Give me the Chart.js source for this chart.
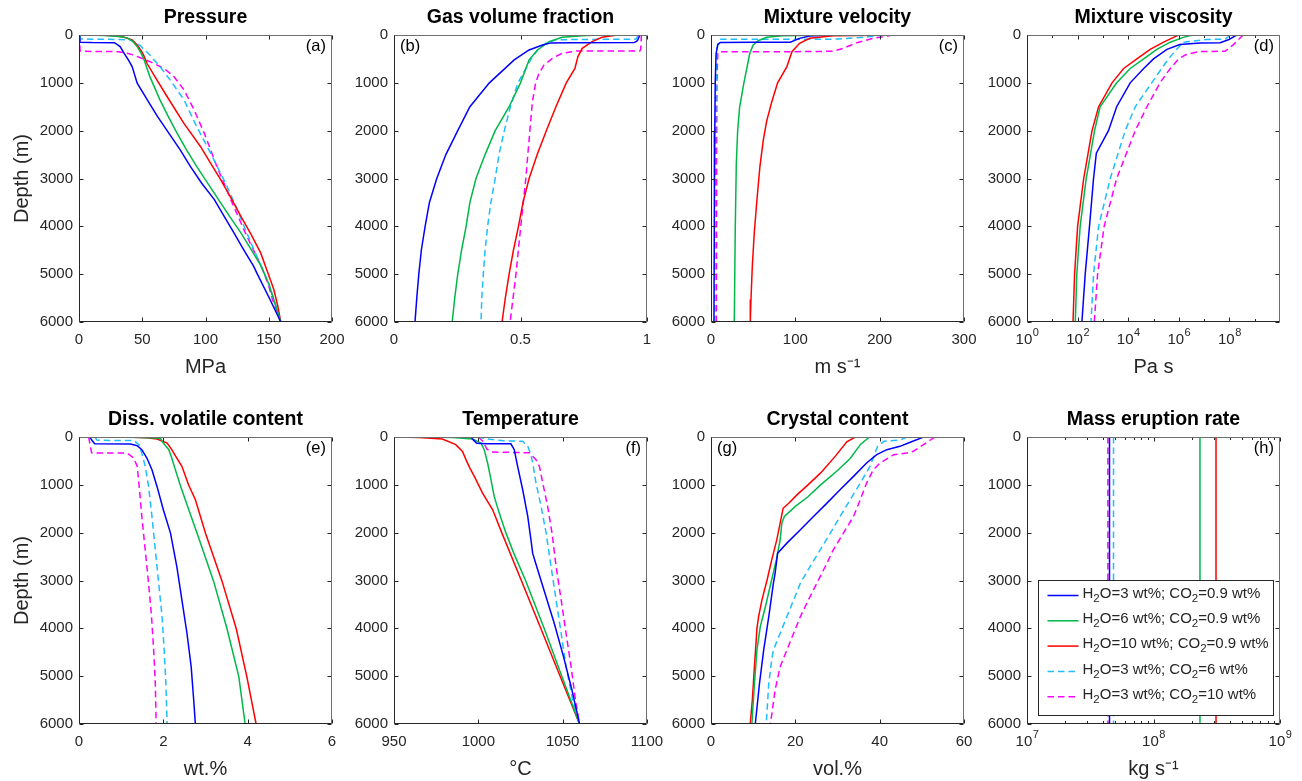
<!DOCTYPE html>
<html lang="en">
<head>
<meta charset="UTF-8" />
<title>Conduit profiles</title>
<script src="https://cdn.jsdelivr.net/npm/chart.js@4"></script>
<style>
  body { margin: 0; background: #fff; width: 1302px; height: 781px; overflow: hidden; position: relative; }
  canvas { position: absolute; }
</style>
</head>
<body>
<script>
// runs: H2O=3/CO2=0.9, H2O=6/CO2=0.9, H2O=10/CO2=0.9, H2O=3/CO2=6, H2O=3/CO2=10
const runLabels = ['H₂O=3 wt%; CO₂=0.9 wt%', 'H₂O=6 wt%; CO₂=0.9 wt%', 'H₂O=10 wt%; CO₂=0.9 wt%', 'H₂O=3 wt%; CO₂=6 wt%', 'H₂O=3 wt%; CO₂=10 wt%'];
const runColors = ['#0000ff', '#00b84a', '#ff0000', '#1ebeff', '#ff00ff'];
const runDashed = [false, false, false, true, true];

// tick values
const depthTicks = [0, 1000, 2000, 3000, 4000, 5000, 6000];
const pressureTicks = [0, 50, 100, 150, 200];
const gvfTicks = [0, 0.5, 1];
const velocityTicks = [0, 100, 200, 300];
const viscosityTicks = [1, 1e2, 1e4, 1e6, 1e8];
const volatileTicks = [0, 2, 4, 6];
const temperatureTicks = [950, 1000, 1050, 1100];
const crystalTicks = [0, 20, 40, 60];
const merTicks = [1e7, 1e8, 1e9];

// each point is [value, depth in m]
// (a) pressure, MPa
const pressureW3 = [[0.5,0],[0.8,150],[10,158],[28,162],[32.5,243],[35.7,382],[39,521],[42,660],[46,1008],[54,1356],[62,1700],[71,2051],[80,2400],[88,2747],[97,3100],[107,3442],[115,3800],[122.5,4138],[130,4480],[138,4833],[141,5000],[151,5529],[159.5,6000]];
const pressureW6 = [[6.6,0],[20,10],[32,30],[38,60],[42,120],[46,243],[49,380],[51,487],[56,870],[64,1356],[70.5,1700],[77.5,2051],[85,2400],[93,2747],[103,3150],[112,3511],[120,3830],[128,4138],[136,4480],[144,4833],[150,5200],[154,5529],[159.5,6000]];
const pressureW10 = [[14,0],[25,10],[35,40],[42,100],[46,209],[49,320],[51,417],[53.7,591],[60,870],[69.6,1286],[82.8,1843],[96,2330],[104,2680],[112,3025],[120,3400],[128,3790],[136,4170],[143.6,4555],[149,4950],[154,5320],[157,5650],[159.5,6000]];
const pressureC6 = [[0.8,0],[1,80],[10,90],[30,92],[40,100],[44,150],[48,209],[56,417],[64,660],[72,939],[83,1356],[93,1913],[104,2469],[117,3164],[124,3580],[130.5,3999],[137,4410],[144,4833],[150,5200],[154,5529],[159.5,6000]];
const pressureC10 = [[0.5,0],[0.8,335],[10,345],[31,348],[38,380],[43,417],[56,556],[67,695],[75,870],[83,1147],[91,1565],[99,2051],[109,2747],[120,3442],[131.5,4138],[138,4500],[144,4833],[149.5,5200],[153,5529],[159.5,6000]];

// (b) gas volume fraction
const gvfW3 = [[0.972,0],[0.962,120],[0.95,158],[0.7,160],[0.62,165],[0.587,209],[0.534,313],[0.475,520],[0.377,1000],[0.30,1500],[0.252,2000],[0.205,2500],[0.169,3000],[0.14,3500],[0.123,4000],[0.108,4500],[0.098,5000],[0.09,5500],[0.083,6000]];
const gvfW6 = [[0.81,0],[0.744,14],[0.665,49],[0.613,139],[0.567,313],[0.534,520],[0.5,1000],[0.455,1500],[0.4,2000],[0.36,2500],[0.324,3000],[0.3,3500],[0.285,4000],[0.267,4500],[0.252,5000],[0.24,5500],[0.23,6000]];
const gvfW10 = [[0.882,0],[0.822,49],[0.783,139],[0.744,278],[0.727,452],[0.715,700],[0.681,1000],[0.64,1500],[0.602,2000],[0.566,2500],[0.534,3000],[0.51,3500],[0.492,4000],[0.472,4500],[0.455,5000],[0.44,5500],[0.427,6000]];
const gvfC6 = [[0.965,0],[0.958,80],[0.95,90],[0.75,92],[0.64,100],[0.6,174],[0.567,313],[0.54,520],[0.49,1000],[0.46,1500],[0.436,2000],[0.415,2500],[0.4,3000],[0.383,3500],[0.37,4000],[0.36,4500],[0.353,5000],[0.347,5500],[0.344,6000]];
const gvfC10 = [[0.978,0],[0.975,300],[0.972,334],[0.72,336],[0.665,382],[0.626,487],[0.593,626],[0.573,800],[0.56,1000],[0.547,1400],[0.537,2000],[0.521,3000],[0.501,4000],[0.482,5000],[0.459,6000]];

// (c) mixture velocity, m/s
const velocityW3 = [[140,0],[117,20],[105,70],[94,150],[50,153],[11,155],[8,200],[6,400],[5,1000],[4.5,2000],[4,3500],[3.5,6000]];
const velocityW6 = [[143,0],[85,15],[66,48],[56,119],[50,209],[46,383],[39,1000],[34,1500],[31.6,2000],[30,2700],[28.8,4000],[27.6,6000]];
const velocityW10 = [[220,0],[145,14],[117,70],[105,174],[96,348],[90,660],[79,1000],[72,1400],[66,1800],[62,2200],[58,2750],[54.5,3440],[51.3,4140],[49,4830],[47.4,5530],[46.6,6000]];
const velocityC6 = [[205,0],[190,30],[170,60],[150,84],[144,88],[40,90],[11,91],[9,130],[7,300],[6,1000],[5,3000],[4.5,6000]];
const velocityC10 = [[216,0],[192,70],[173,160],[157,278],[145,340],[100,348],[9,350],[8,400],[7,1000],[6.6,3000],[6.3,6000]];

// (d) mixture viscosity, Pa s
const viscosityW3 = [[1.95e8,0],[9.1e7,100],[4.3e7,160],[6.9e6,165],[1.1e6,200],[3.4e5,300],[1e5,500],[4.1e4,700],[1.2e4,1000],[3.5e3,1500],[1.66e3,2000],[550,2470],[427,3000],[295,4000],[200,5000],[148,6000]];
const viscosityW6 = [[3.5e6,0],[1.5e6,50],[4.6e5,150],[1.35e5,300],[4.1e4,500],[1.2e4,700],[3.5e3,1000],[776,1500],[468,2000],[219,3000],[126,4000],[93,5000],[81,6000]];
const viscosityW10 = [[9.8e5,0],[6.2e5,50],[2.5e5,150],[7.4e4,300],[2.2e4,500],[6.6e3,700],[2.3e3,1000],[676,1500],[372,2000],[174,3000],[100,4000],[76,5000],[66,6000]];
const viscosityC6 = [[1.07e8,0],[6.8e7,90],[1.26e7,92],[1.5e6,150],[8.3e5,300],[3.9e5,500],[2.1e5,700],[8.5e4,1000],[1.9e4,1500],[7.6e3,2000],[1.95e3,3000],[676,4000],[427,5000],[339,6000]];
const viscosityC10 = [[3.5e8,0],[1.45e8,200],[6.8e7,340],[6.9e6,345],[2.1e6,400],[9.8e5,500],[4.6e5,700],[1.8e5,1000],[5.5e4,1500],[1.9e4,2000],[3.5e3,3000],[1.12e3,4000],[617,5000],[457,6000]];

// (e) dissolved volatile content, wt.%
const volatileW3 = [[0.25,0],[0.37,140],[1.22,145],[1.38,181],[1.49,265],[1.61,440],[1.73,684],[1.85,1033],[2.0,1521],[2.17,2010],[2.32,2708],[2.44,3405],[2.56,4103],[2.66,4801],[2.72,5499],[2.76,6000]];
const volatileW6 = [[0.74,0],[1.5,10],[1.93,28],[2.0,126],[2.13,265],[2.2,440],[2.26,614],[2.4,1005],[2.52,1312],[2.8,2010],[3.19,3008],[3.51,4010],[3.79,5010],[3.94,6000]];
const volatileW10 = [[1.14,0],[1.6,15],[1.85,42],[2.09,126],[2.2,265],[2.32,440],[2.44,614],[2.6,1005],[2.76,1312],[3.0,2010],[3.39,3008],[3.73,4010],[3.98,5010],[4.2,6000]];
const volatileC6 = [[0.38,0],[0.42,60],[0.45,70],[1.3,72],[1.42,160],[1.49,335],[1.57,614],[1.65,1033],[1.73,1661],[1.81,2359],[1.89,3056],[1.97,3754],[2.02,4452],[2.06,5150],[2.09,6000]];
const volatileC10 = [[0.23,0],[0.27,200],[0.3,330],[0.32,335],[1.14,337],[1.3,440],[1.38,614],[1.42,963],[1.49,1661],[1.57,2359],[1.65,3056],[1.72,3754],[1.77,4452],[1.81,5150],[1.83,6000]];

// (f) temperature, deg C
const temperatureW3 = [[995.6,0],[997,60],[999,130],[1005,140],[1019.3,142],[1021.3,265],[1023.3,614],[1026.3,1103],[1029.3,1661],[1031.2,2149],[1032.2,2428],[1034,2640],[1039.5,3266],[1045,3894],[1050.5,4592],[1055.5,5290],[1060,6000]];
const temperatureW6 = [[970.8,0],[985,8],[996.6,42],[1001.5,126],[1003.5,265],[1005.5,544],[1007.5,893],[1009.4,1242],[1012.4,1591],[1016.4,2010],[1021,2428],[1028,3000],[1039,4000],[1049.5,5000],[1060,6000]];
const temperatureW10 = [[951,0],[965,10],[978.7,42],[986.6,160],[990.6,300],[993,500],[995,650],[998,850],[1002.5,1172],[1008.5,1521],[1014,2010],[1025.5,3000],[1037,4000],[1048.5,5000],[1060,6000]];
const temperatureC6 = [[999.5,0],[1005,40],[1015,80],[1026.3,90],[1029.3,195],[1031.2,370],[1032.6,614],[1034.2,963],[1037.2,1452],[1040.2,2010],[1043.1,2708],[1046.1,3405],[1049.1,4103],[1052,4801],[1056,5499],[1060,6000]];
const temperatureC10 = [[1000,0],[1003,100],[1005,250],[1008,314],[1030.2,330],[1034.2,475],[1036.2,614],[1038.2,963],[1041.1,1452],[1043.7,2010],[1046.1,2708],[1049.1,3405],[1052,4103],[1055,4801],[1057.6,5499],[1060,6000]];

// (g) crystal content, vol.%
const crystalW3 = [[50.4,0],[46.8,126],[44.8,195],[41.7,265],[39.3,370],[36.9,544],[33.8,823],[30.6,1103],[27.5,1382],[24.3,1661],[21.2,1940],[18,2219],[15.8,2428],[15.2,2850],[14.8,3056],[13.7,3754],[12.5,4452],[11.5,5150],[10.5,6000]];
const crystalW6 = [[37.6,0],[35.5,150],[33,450],[30,700],[26,1000],[23,1250],[20,1450],[17.4,1660],[16.8,1800],[16.4,2150],[15.5,2570],[14,3130],[12.9,3550],[11.7,3960],[10.9,4450],[10.3,5150],[9.7,6000]];
const crystalW10 = [[34.2,0],[32.2,100],[29.5,400],[26,750],[23,1000],[20.5,1200],[18.5,1380],[17.1,1490],[16.4,1800],[15.6,2150],[14.4,2570],[13.3,2990],[12.1,3400],[11.3,3750],[10.9,4000],[10.3,4800],[9.8,5500],[9.3,6000]];
const crystalC6 = [[46.5,0],[45,60],[41,90],[39.5,200],[37.7,614],[35.4,963],[33,1312],[30.6,1661],[28.3,2010],[25.9,2359],[23.5,2708],[21.2,3056],[19.6,3405],[18,3754],[16.4,4103],[14.8,4452],[14.4,4661],[13.7,5150],[13.1,6000]];
const crystalC10 = [[53.1,0],[50.4,160],[48,300],[46.4,335],[43.3,370],[40.1,544],[38.5,684],[36.9,963],[35.4,1312],[33.8,1661],[31.4,2010],[29,2359],[27.1,2708],[25.1,3056],[23.1,3405],[21.2,3754],[19.6,4103],[18,4452],[16.4,4801],[15.2,5290],[14.1,6000]];

// (h) mass eruption rate, kg/s
const merW3 = [[4.49e7,0],[4.49e7,6000]];
const merW6 = [[2.33e8,0],[2.33e8,6000]];
const merW10 = [[3.12e8,0],[3.12e8,6000]];
const merC6 = [[4.83e7,0],[4.83e7,6000]];
const merC10 = [[4.36e7,0],[4.36e7,6000]];

const panels = [
  { title: 'Pressure', xTitle: 'MPa', tag: '(a)', min: 0, max: 200, ticks: pressureTicks, series: [pressureW3, pressureW6, pressureW10, pressureC6, pressureC10] },
  { title: 'Gas volume fraction', xTitle: '', tag: '(b)', tagLeft: true, min: 0, max: 1, ticks: gvfTicks, series: [gvfW3, gvfW6, gvfW10, gvfC6, gvfC10] },
  { title: 'Mixture velocity', xTitle: 'm s⁻¹', tag: '(c)', min: 0, max: 300, ticks: velocityTicks, series: [velocityW3, velocityW6, velocityW10, velocityC6, velocityC10] },
  { title: 'Mixture viscosity', xTitle: 'Pa s', tag: '(d)', log: true, minor: 'decade', min: 1, max: 1e10, ticks: viscosityTicks, series: [viscosityW3, viscosityW6, viscosityW10, viscosityC6, viscosityC10] },
  { title: 'Diss. volatile content', xTitle: 'wt.%', tag: '(e)', min: 0, max: 6, ticks: volatileTicks, series: [volatileW3, volatileW6, volatileW10, volatileC6, volatileC10] },
  { title: 'Temperature', xTitle: '°C', tag: '(f)', min: 950, max: 1100, ticks: temperatureTicks, series: [temperatureW3, temperatureW6, temperatureW10, temperatureC6, temperatureC10] },
  { title: 'Crystal content', xTitle: 'vol.%', tag: '(g)', tagLeft: true, min: 0, max: 60, ticks: crystalTicks, series: [crystalW3, crystalW6, crystalW10, crystalC6, crystalC10] },
  { title: 'Mass eruption rate', xTitle: 'kg s⁻¹', tag: '(h)', log: true, minor: 'sub', legend: true, min: 1e7, max: 1e9, ticks: merTicks, series: [merW3, merW6, merW10, merC6, merC10] }
];

const plotLefts = [79, 394, 711, 1027];
const plotTops = [35, 437];
const AXIS_W = 79, TITLE_H = 35, PLOT_W = 253, PLOT_H = 287, XAXIS_H = 60, PAD_R = 30;
const INK = '#262626';
const FONT = '"Liberation Sans", Arial, Helvetica, sans-serif';

Chart.defaults.font.family = FONT;
Chart.defaults.color = INK;

// box, inward ticks, power-of-ten labels and panel tag, like a matlab axes
const framePlugin = {
  id: 'frame',
  afterDatasetsDraw(chart, args, opts) {
    const { ctx, chartArea: a, scales: { x, y } } = chart;
    const L = Math.round(a.left) + 0.5, R = Math.round(a.right) - 0.5;
    const T = Math.round(a.top) + 0.5, B = Math.round(a.bottom) - 0.5;
    ctx.save();
    ctx.lineWidth = 1;
    ctx.strokeStyle = INK;
    const seg = (x1, y1, x2, y2) => { ctx.beginPath(); ctx.moveTo(x1, y1); ctx.lineTo(x2, y2); ctx.stroke(); };
    const xTick = (v, len) => {
      const p = Math.round(x.getPixelForValue(v)) + 0.5;
      seg(p, B, p, B - len); seg(p, T, p, T + len);
    };
    x.ticks.forEach(t => xTick(t.value, 4));
    if (opts.minor === 'sub') {
      for (let d = x.min; d < x.max; d *= 10) for (let k = 2; k <= 9; k++) xTick(d * k, 2.5);
    } else if (opts.minor === 'decade') {
      for (let d = 10; d < x.max; d *= 100) xTick(d, 2.5);
    }
    y.ticks.forEach(t => {
      const p = Math.round(y.getPixelForValue(t.value)) + 0.5;
      seg(L, p, L + 4, p); seg(R, p, R - 4, p);
    });
    ctx.strokeStyle = '#6e6e6e';
    seg(L, T, R, T); seg(R, T, R, B);
    ctx.strokeStyle = INK;
    seg(L, T, L, B); seg(L, B, R, B);

    // 10^n labels with a raised exponent
    if (opts.log) {
      ctx.fillStyle = INK;
      ctx.textBaseline = 'middle';
      ctx.textAlign = 'left';
      x.ticks.forEach(t => {
        const p = x.getPixelForValue(t.value);
        const e = String(Math.round(Math.log10(t.value)));
        ctx.font = '15px ' + FONT;
        const wb = ctx.measureText('10').width;
        ctx.font = '11px ' + FONT;
        const we = ctx.measureText(e).width;
        const x0 = p - (wb + we) / 2;
        ctx.font = '15px ' + FONT;
        ctx.fillText('10', x0, a.bottom + 18);
        ctx.font = '11px ' + FONT;
        ctx.fillText(e, x0 + wb + 0.5, a.bottom + 11);
      });
    }

    ctx.fillStyle = '#000';
    ctx.font = '16.5px ' + FONT;
    ctx.textBaseline = 'middle';
    if (opts.tagLeft) { ctx.textAlign = 'left'; ctx.fillText(opts.tag, a.left + 6, a.top + 11.5); }
    else { ctx.textAlign = 'right'; ctx.fillText(opts.tag, a.right - 6, a.top + 11.5); }
    ctx.restore();
  }
};

// text with lowered "2" for H2O / CO2
function drawSubText(ctx, text, x, y) {
  let cx = x;
  for (const part of text.split(/(₂)/)) {
    if (!part) continue;
    if (part === '₂') {
      ctx.font = '11.5px ' + FONT; ctx.fillText('2', cx, y + 5); cx += ctx.measureText('2').width;
    } else {
      ctx.font = '15px ' + FONT; ctx.fillText(part, cx, y); cx += ctx.measureText(part).width;
    }
  }
}

const legendPlugin = {
  id: 'boxLegend',
  afterDraw(chart, args, opts) {
    if (!opts.show) return;
    const { ctx, chartArea: a } = chart;
    const left = Math.round(a.left + 11) + 0.5, right = Math.round(a.right - 7) + 0.5;
    const top = Math.round(a.top + 143) + 0.5, bottom = Math.round(a.bottom - 9) + 0.5;
    ctx.save();
    ctx.fillStyle = '#fff';
    ctx.fillRect(left, top, right - left, bottom - top);
    ctx.strokeStyle = INK; ctx.lineWidth = 1;
    ctx.strokeRect(left, top, right - left, bottom - top);
    chart.data.datasets.forEach((ds, i) => {
      const yy = top + 15 + i * 25.3;
      ctx.strokeStyle = ds.borderColor; ctx.lineWidth = ds.borderWidth;
      ctx.setLineDash(ds.borderDash || []);
      ctx.beginPath(); ctx.moveTo(left + 9, yy); ctx.lineTo(left + 40, yy); ctx.stroke();
      ctx.setLineDash([]);
      ctx.fillStyle = INK; ctx.textAlign = 'left'; ctx.textBaseline = 'middle';
      drawSubText(ctx, ds.label, left + 44, yy - 2);
    });
    ctx.restore();
  }
};

panels.forEach((p, i) => {
  const col = i % 4, row = Math.floor(i / 4);
  const canvas = document.createElement('canvas');
  canvas.width = AXIS_W + PLOT_W + PAD_R;
  canvas.height = TITLE_H + PLOT_H + XAXIS_H;
  canvas.style.left = (plotLefts[col] - AXIS_W) + 'px';
  canvas.style.top = (plotTops[row] - TITLE_H) + 'px';
  document.body.appendChild(canvas);

  const datasets = p.series.map((s, k) => ({
    label: runLabels[k],
    data: s.map(([v, d]) => ({ x: v, y: d })),
    showLine: true,
    borderColor: runColors[k],
    backgroundColor: runColors[k],
    borderWidth: 1.5,
    borderDash: runDashed[k] ? [6.5, 4] : [],
    pointRadius: 0,
    tension: 0
  }));

  new Chart(canvas, {
    type: 'scatter',
    data: { datasets },
    plugins: [framePlugin, legendPlugin],
    options: {
      responsive: false,
      animation: false,
      events: [],
      layout: { padding: { left: 0, top: 0, right: PAD_R, bottom: 0 } },
      plugins: {
        legend: { display: false },
        tooltip: { enabled: false },
        title: {
          display: true, text: p.title, color: '#000', fullSize: false,
          font: { size: 19.5, weight: 'bold' }, padding: { top: 6.3, bottom: 5.3 }
        },
        frame: { tag: p.tag, tagLeft: !!p.tagLeft, minor: p.minor, log: !!p.log },
        boxLegend: { show: !!p.legend }
      },
      scales: {
        x: {
          type: p.log ? 'logarithmic' : 'linear',
          position: 'bottom',
          min: p.min, max: p.max,
          grid: { display: false, drawTicks: false },
          border: { display: false },
          ticks: { padding: 9, color: INK, font: { size: 15 }, autoSkip: false, maxRotation: 0, callback: v => p.log ? '' : String(v) },
          afterBuildTicks: s => { s.ticks = p.ticks.map(v => ({ value: v })); },
          afterFit: s => { s.height = XAXIS_H; },
          title: { display: !!p.xTitle, text: p.xTitle, color: INK, font: { size: 20 }, padding: { top: 0, bottom: 3 } }
        },
        y: {
          type: 'linear',
          reverse: true,
          min: 0, max: 6000,
          grid: { display: false, drawTicks: false },
          border: { display: false },
          ticks: { padding: 6, color: INK, font: { size: 15 }, autoSkip: false, callback: v => String(v) },
          afterBuildTicks: s => { s.ticks = depthTicks.map(v => ({ value: v })); },
          afterFit: s => { s.width = AXIS_W; },
          title: { display: col === 0, text: 'Depth (m)', color: INK, font: { size: 20 }, padding: { top: 10, bottom: 0 } }
        }
      }
    }
  });
});
</script>
</body>
</html>
